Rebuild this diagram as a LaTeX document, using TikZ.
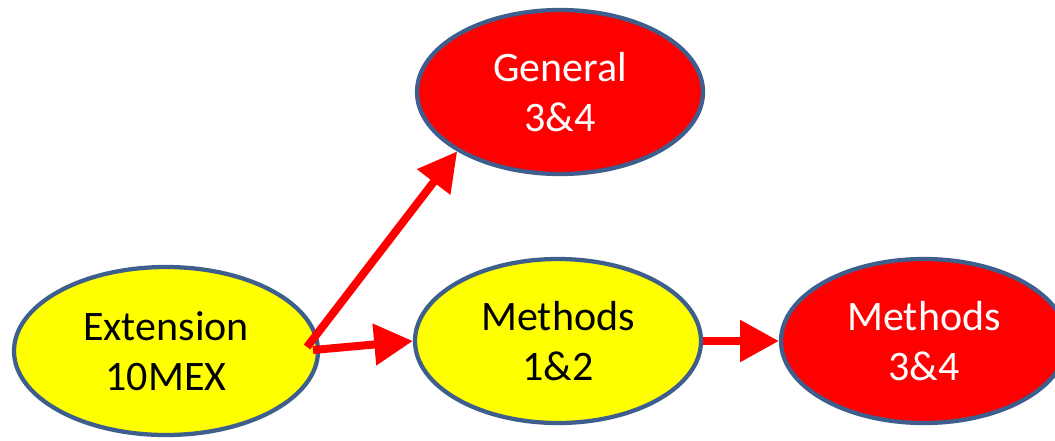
\documentclass[tikz,border=0pt]{standalone}
\usepackage{fontspec}
\setmainfont{Carlito}
\usetikzlibrary{shapes.geometric,arrows.meta}
\definecolor{edgeblue}{HTML}{3E5F8E}
\definecolor{yel}{HTML}{FFFF00}
\definecolor{rd}{HTML}{FF0000}
\tikzset{
  bubble/.style={ellipse, draw=edgeblue, line width=3.2pt, inner sep=0pt,
    minimum width=214.5pt, minimum height=123pt, align=center,
    font=\fontsize{31.5}{37.5}\selectfont},
  yelbubble/.style={bubble, fill=yel, text=black},
  redbubble/.style={bubble, fill=rd, text=white},
  conn/.style={draw=rd, line width=6pt, -{Triangle[length=29pt,width=30pt]}}
}
\begin{document}
\begin{tikzpicture}[x=0.75pt,y=-0.75pt]
\useasboundingbox (0,0) rectangle (1055,440);
\clip (0,0) rectangle (1055,440);
\node[yelbubble, minimum width=228pt, minimum height=126pt] (ext) at (166,351) {Extension\\10MEX};
\node[redbubble] (gen) at (560,92) {General\\3\&4};
\node[yelbubble] (m12) at (558,341) {Methods\\1\&2};
\node[redbubble] (m34) at (924,341) {Methods\\3\&4};
\coordinate (s1) at (307,347);
\coordinate (s2) at (313,350);
\draw[conn] (s1) -- (gen.210);
\draw[conn] (s2) -- (m12.west);
\draw[conn] (m12.east) -- (m34.west);
\end{tikzpicture}
\end{document}
